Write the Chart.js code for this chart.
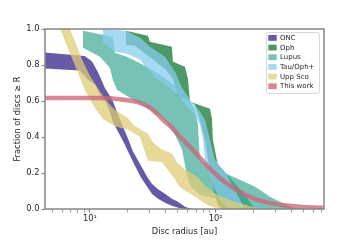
<!DOCTYPE html>
<html><head><meta charset="utf-8">
<style>html,body{margin:0;padding:0;background:#fff}#wrap{width:360px;height:240px}</style>
<script src="https://cdn.jsdelivr.net/npm/chart.js@4.4.1/dist/chart.umd.min.js"></script>
</head><body><div id="wrap"><canvas id="c" width="360" height="240"></canvas></div>
<script>
// ---- data (disc radius in au, cumulative fraction) ----
const seriesNames = ['ONC', 'Oph', 'Lupus', 'Tau/Oph+', 'Upp Sco', 'This work'];

const onc_hi_r = [4.4, 9.1, 10.4, 11.6, 13.2, 15.0, 16.4, 18.0, 20.1, 22.0, 25.5, 28.4, 31.1, 34.8, 39.5, 44.9, 50.1, 57.0, 64.7];
const onc_hi_f = [0.87, 0.85, 0.82, 0.76, 0.67, 0.61, 0.54, 0.47, 0.39, 0.32, 0.24, 0.18, 0.14, 0.11, 0.085, 0.057, 0.04, 0.013, 0];
const onc_lo_r = [4.4, 8.3, 9.6, 11.0, 12.0, 13.2, 14.4, 15.2, 16.7, 18.6, 20.4, 22.8, 25.5, 28.4, 31.1, 34.8, 39.5, 44.9, 52.0, 57.0, 64.7];
const onc_lo_f = [0.78, 0.77, 0.72, 0.69, 0.635, 0.60, 0.54, 0.485, 0.43, 0.37, 0.31, 0.24, 0.175, 0.125, 0.085, 0.057, 0.035, 0.018, 0.004, 0, 0];

const oph_hi_r = [19.3, 28.9, 30.0, 44.9, 45.7, 57.0, 60.2, 62.5, 90.1, 93.5, 95.1, 104, 130, 171, 194, 206];
const oph_hi_f = [0.99, 0.963, 0.929, 0.902, 0.818, 0.79, 0.724, 0.596, 0.557, 0.502, 0.385, 0.246, 0.174, 0.079, 0.024, 0];
const oph_lo_r = [19.3, 19.3, 22.8, 28.9, 39.5, 45.7, 50.1, 57.0, 68.4, 75.0, 82.2, 86.9, 93.5, 98.7, 104, 112, 206];
const oph_lo_f = [0.99, 0.913, 0.907, 0.852, 0.779, 0.724, 0.629, 0.613, 0.579, 0.496, 0.385, 0.274, 0.163, 0.079, 0.024, 0, 0];

const lup_hi_r = [8.8, 15.2, 15.8, 19.7, 28.4, 41.0, 52.0, 60.2, 68.4, 72.3, 75.0, 90.1, 112, 156, 206, 270, 390, 469];
const lup_hi_f = [0.99, 0.957, 0.868, 0.846, 0.79, 0.718, 0.663, 0.607, 0.552, 0.468, 0.274, 0.229, 0.207, 0.163, 0.124, 0.068, 0.013, 0];
const lup_lo_r = [8.8, 12.0, 14.4, 15.2, 16.4, 22.0, 30.0, 39.5, 47.5, 54.0, 57.0, 60.2, 64.7, 75.0, 108, 156, 225, 469];
const lup_lo_f = [0.896, 0.846, 0.785, 0.718, 0.663, 0.607, 0.552, 0.496, 0.413, 0.33, 0.246, 0.163, 0.118, 0.079, 0.052, 0.024, 0, 0];

const tau_hi_r = [12.7, 19.3, 25.0, 30.0, 39.5, 47.5, 54.0, 62.5, 75.0, 82.2, 90.1, 98.7, 119, 135, 156, 171];
const tau_hi_f = [1.0, 0.99, 0.952, 0.902, 0.846, 0.763, 0.674, 0.607, 0.541, 0.496, 0.385, 0.274, 0.207, 0.135, 0.052, 0];
const tau_lo_r = [12.7, 12.7, 15.8, 19.7, 25.0, 30.0, 36.1, 43.3, 50.1, 57.0, 68.4, 75.0, 79.3, 82.2, 90.1, 98.7, 108, 125, 171];
const tau_lo_f = [1.0, 0.924, 0.874, 0.863, 0.829, 0.763, 0.707, 0.674, 0.635, 0.579, 0.524, 0.468, 0.385, 0.274, 0.19, 0.107, 0.052, 0, 0];

const usc_hi_r = [5.8, 6.9, 7.6, 8.6, 10.0, 11.6, 13.6, 15.8, 19.7, 22.8, 28.9, 31.7, 37.4, 44.9, 49.2, 57.0, 71.0, 85.3, 102, 130, 178, 225];
const usc_hi_f = [1.0, 1.0, 0.93, 0.835, 0.74, 0.67, 0.6, 0.55, 0.51, 0.46, 0.42, 0.37, 0.33, 0.31, 0.26, 0.22, 0.18, 0.12, 0.08, 0.05, 0.02, 0];
const usc_lo_r = [5.8, 6.7, 8.0, 9.1, 11.0, 12.7, 15.8, 20.1, 25.0, 28.9, 37.4, 45.7, 52.0, 68.4, 85.3, 98.7, 119, 225];
const usc_lo_f = [1.0, 0.89, 0.76, 0.66, 0.56, 0.50, 0.46, 0.44, 0.40, 0.27, 0.26, 0.18, 0.12, 0.07, 0.024, 0.007, 0, 0];

const work_r = [4.4, 12.0, 17.3, 25.0, 30.0, 34.8, 39.5, 44.9, 52.0, 62.5, 75.0, 95.1, 130, 178, 247, 325, 469, 714];
const work_f = [0.616, 0.616, 0.61, 0.59, 0.563, 0.524, 0.485, 0.452, 0.401, 0.346, 0.285, 0.207, 0.129, 0.074, 0.04, 0.024, 0.013, 0.007];

const xTickValues = [5, 6, 7, 8, 9, 10, 20, 30, 40, 50, 60, 70, 80, 90, 100, 200, 300, 400, 500, 600, 700];
const xTickLabelValues = [10, 100];
const xTickLabels = ['10\u00B9', '10\u00B2'];
const yTickValues = [0, 0.2, 0.4, 0.6, 0.8, 1.0];

// ---- styling ----
const colors = ['rgba(51,34,136,0.75)', 'rgba(17,119,51,0.75)', 'rgba(68,170,153,0.72)',
                'rgba(136,204,238,0.75)', 'rgba(221,204,119,0.75)', 'rgba(204,102,119,0.78)'];
const FONT = {family: '"DejaVu Sans", sans-serif', size: 8.3, lineHeight: 1.2};
const TXT = '#262626';
const AXC = '#858585';

const zip = (r, f) => r.map((v, i) => ({x: v, y: f[i]}));
const bands = [
  [onc_lo_r, onc_lo_f, onc_hi_r, onc_hi_f],
  [oph_lo_r, oph_lo_f, oph_hi_r, oph_hi_f],
  [lup_lo_r, lup_lo_f, lup_hi_r, lup_hi_f],
  [tau_lo_r, tau_lo_f, tau_hi_r, tau_hi_f],
  [usc_lo_r, usc_lo_f, usc_hi_r, usc_hi_f]
];
const datasets = [];
bands.forEach((b, k) => {
  datasets.push({label: seriesNames[k] + ' lower', data: zip(b[0], b[1]), borderColor: 'rgba(0,0,0,0)',
    borderWidth: 0, pointRadius: 0, fill: false, tension: 0, order: 100 - 2 * k});
  datasets.push({label: seriesNames[k], data: zip(b[2], b[3]), borderColor: 'rgba(0,0,0,0)',
    borderWidth: 0, pointRadius: 0, fill: '-1', backgroundColor: colors[k], tension: 0, order: 99 - 2 * k});
});
datasets.push({label: seriesNames[5], data: zip(work_r, work_f), borderColor: colors[5], borderWidth: 4.5,
  pointRadius: 0, fill: false, cubicInterpolationMode: 'monotone', order: 0});

const framePlugin = {
  id: 'frame',
  afterDatasetsDraw(chart) {
    const {ctx, chartArea: a} = chart;
    ctx.save();
    ctx.strokeStyle = AXC; ctx.lineWidth = 1.5;
    ctx.strokeRect(a.left, a.top, a.right - a.left, a.bottom - a.top);
    ctx.restore();
  }
};
const legendPlugin = {
  id: 'boxLegend',
  afterDatasetsDraw(chart) {
    const {ctx, chartArea: a} = chart;
    const w = 53, h = 61, x0 = a.right - 5 - w, y0 = a.top + 3;
    ctx.save();
    ctx.beginPath();
    ctx.roundRect(x0 + 0.5, y0 + 0.5, w, h, 2);
    ctx.fillStyle = 'rgba(255,255,255,0.85)'; ctx.fill();
    ctx.strokeStyle = '#d8d8d8'; ctx.lineWidth = 1; ctx.stroke();
    ctx.font = '7px "DejaVu Sans", sans-serif';
    ctx.textBaseline = 'middle';
    seriesNames.forEach((n, i) => {
      const cy = y0 + 5.9 + i * 9.67;
      ctx.fillStyle = colors[i];
      ctx.fillRect(x0 + 2.3, cy - 2.9, 8.4, 5.8);
      ctx.fillStyle = TXT;
      ctx.fillText(n, x0 + 14, cy + 0.3);
    });
    ctx.restore();
  }
};

new Chart(document.getElementById('c'), {
  type: 'line',
  data: {datasets},
  options: {
    responsive: false, animation: false, devicePixelRatio: 1,
    layout: {padding: {left: 0, right: 36, top: 29, bottom: 0}},
    plugins: {legend: {display: false}, tooltip: {enabled: false}},
    scales: {
      x: {
        type: 'logarithmic', position: 'bottom', min: 4.39, max: 728,
        afterBuildTicks: s => { s.ticks = xTickValues.map(v => ({value: v, major: xTickLabelValues.includes(v)})); },
        afterFit: s => { s.height = 31; },
        ticks: {autoSkip: false, maxRotation: 0, padding: 1, color: TXT, font: FONT,
          callback: v => { const i = xTickLabelValues.indexOf(v); return i >= 0 ? xTickLabels[i] : ''; }},
        grid: {drawOnChartArea: false, drawTicks: true, tickLength: 3.5, tickColor: AXC,
          tickWidth: c => (c.tick && xTickLabelValues.includes(c.tick.value)) ? 1.1 : 0.8},
        border: {display: false},
        title: {display: true, text: 'Disc radius [au]', color: TXT, font: FONT, padding: {top: 0, bottom: 3}}
      },
      y: {
        type: 'linear', min: 0, max: 1,
        afterBuildTicks: s => { s.ticks = yTickValues.map(v => ({value: v})); },
        afterFit: s => { s.width = 45; },
        ticks: {padding: 2, color: TXT, font: FONT, callback: v => Number(v).toFixed(1)},
        grid: {drawOnChartArea: false, drawTicks: true, tickLength: 3.5, tickColor: AXC, tickWidth: 1.1},
        border: {display: false},
        title: {display: true, text: 'Fraction of discs \u2265 R', color: TXT, font: FONT, padding: {top: 13, bottom: 0}}
      }
    }
  },
  plugins: [framePlugin, legendPlugin]
});
</script>
</body></html>
